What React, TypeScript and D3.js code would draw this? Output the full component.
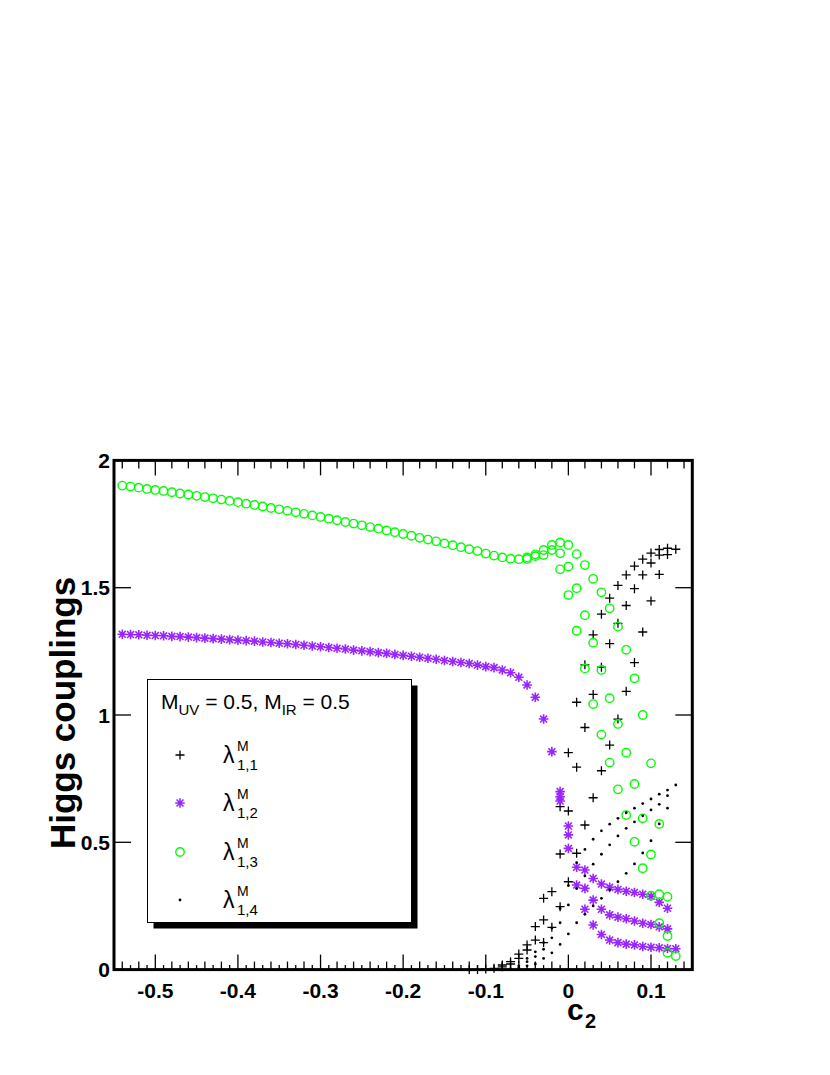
import React from "react";
import * as d3 from "d3";

// ---------- data ----------
type Pt = [number, number];

// λ^M_{1,1}  (black crosses)
const lambda11: Pt[] = [
  [-0.12, 0.0], [-0.11, 0.0], [-0.1, 0.002], [-0.09, 0.005], [-0.08, 0.011], [-0.08, 0.018],
  [-0.07, 0.022], [-0.07, 0.031], [-0.06, 0.044], [-0.06, 0.061], [-0.05, 0.077], [-0.05, 0.097],
  [-0.04, 0.116], [-0.04, 0.169], [-0.03, 0.106], [-0.03, 0.195], [-0.03, 0.28], [-0.02, 0.166],
  [-0.02, 0.306], [-0.01, 0.247], [-0.01, 0.454], [-0.01, 0.64], [0, 0.345], [0, 0.623], [0, 0.852],
  [0.01, 0.457], [0.01, 0.795], [0.01, 1.05], [0.02, 0.568], [0.02, 0.951], [0.02, 1.197],
  [0.03, 0.675], [0.03, 1.081], [0.03, 1.315], [0.04, 0.781], [0.04, 1.188], [0.04, 1.396],
  [0.05, 0.882], [0.05, 1.28], [0.05, 1.459], [0.06, 0.984], [0.06, 1.36], [0.06, 1.509],
  [0.07, 1.093], [0.07, 1.43], [0.07, 1.55], [0.08, 1.206], [0.08, 1.496], [0.08, 1.585],
  [0.09, 1.326], [0.09, 1.55], [0.09, 1.612], [0.1, 1.448], [0.1, 1.597], [0.1, 1.636],
  [0.11, 1.552], [0.11, 1.628], [0.11, 1.65], [0.12, 1.63], [0.12, 1.655], [0.13, 1.651],
];

// λ^M_{1,2}  (purple stars)
const lambda12: Pt[] = [
  [-0.54, 1.317], [-0.53, 1.316], [-0.52, 1.315], [-0.51, 1.313], [-0.5, 1.312], [-0.49, 1.311],
  [-0.48, 1.309], [-0.47, 1.308], [-0.46, 1.306], [-0.45, 1.304], [-0.44, 1.302], [-0.43, 1.3],
  [-0.42, 1.298], [-0.41, 1.296], [-0.4, 1.294], [-0.39, 1.292], [-0.38, 1.29], [-0.37, 1.287],
  [-0.36, 1.285], [-0.35, 1.282], [-0.34, 1.28], [-0.33, 1.277], [-0.32, 1.274], [-0.31, 1.271],
  [-0.3, 1.268], [-0.29, 1.265], [-0.28, 1.262], [-0.27, 1.259], [-0.26, 1.255], [-0.25, 1.252],
  [-0.24, 1.249], [-0.23, 1.245], [-0.22, 1.242], [-0.21, 1.238], [-0.2, 1.234], [-0.19, 1.231],
  [-0.18, 1.227], [-0.17, 1.223], [-0.16, 1.219], [-0.15, 1.214], [-0.14, 1.21], [-0.13, 1.206],
  [-0.12, 1.202], [-0.11, 1.196], [-0.1, 1.19], [-0.09, 1.186], [-0.08, 1.177], [-0.07, 1.166],
  [-0.06, 1.148], [-0.05, 1.118], [-0.04, 1.07], [-0.03, 0.984], [-0.02, 0.856],
  [-0.01, 0.699], [-0.01, 0.679], [-0.01, 0.662], [0, 0.564], [0, 0.529], [0, 0.476],
  [0.01, 0.402], [0.01, 0.332], [0.02, 0.391], [0.02, 0.319], [0.02, 0.237],
  [0.03, 0.358], [0.03, 0.273], [0.03, 0.175], [0.04, 0.336], [0.04, 0.237], [0.04, 0.138],
  [0.05, 0.323], [0.05, 0.215], [0.05, 0.116], [0.06, 0.315], [0.06, 0.206], [0.06, 0.106],
  [0.07, 0.308], [0.07, 0.2], [0.07, 0.1], [0.08, 0.303], [0.08, 0.191], [0.08, 0.097],
  [0.09, 0.296], [0.09, 0.182], [0.09, 0.091], [0.1, 0.288], [0.1, 0.177], [0.1, 0.088],
  [0.11, 0.264], [0.11, 0.168], [0.11, 0.086], [0.12, 0.241], [0.12, 0.16], [0.12, 0.083],
  [0.13, 0.082],
];

// λ^M_{1,3}  (green circles)
const lambda13: Pt[] = [
  [-0.54, 1.901], [-0.53, 1.897], [-0.52, 1.893], [-0.51, 1.888], [-0.5, 1.884], [-0.49, 1.88],
  [-0.48, 1.875], [-0.47, 1.87], [-0.46, 1.866], [-0.45, 1.861], [-0.44, 1.856], [-0.43, 1.851],
  [-0.42, 1.846], [-0.41, 1.841], [-0.4, 1.836], [-0.39, 1.83], [-0.38, 1.825], [-0.37, 1.819],
  [-0.36, 1.813], [-0.35, 1.808], [-0.34, 1.802], [-0.33, 1.796], [-0.32, 1.79], [-0.31, 1.784],
  [-0.3, 1.778], [-0.29, 1.771], [-0.28, 1.765], [-0.27, 1.758], [-0.26, 1.752], [-0.25, 1.745],
  [-0.24, 1.738], [-0.23, 1.732], [-0.22, 1.725], [-0.21, 1.718], [-0.2, 1.711], [-0.19, 1.704],
  [-0.18, 1.696], [-0.17, 1.689], [-0.16, 1.682], [-0.15, 1.674], [-0.14, 1.667], [-0.13, 1.659],
  [-0.12, 1.651], [-0.11, 1.644], [-0.1, 1.634], [-0.09, 1.626], [-0.08, 1.619], [-0.07, 1.614],
  [-0.06, 1.612], [-0.05, 1.613], [-0.05, 1.619], [-0.04, 1.624], [-0.04, 1.631],
  [-0.03, 1.628], [-0.03, 1.648], [-0.02, 1.648], [-0.02, 1.668],
  [-0.01, 1.678], [-0.01, 1.635], [-0.01, 1.572], [0, 1.668], [0, 1.583], [0, 1.471],
  [0.01, 1.632], [0.01, 1.498], [0.01, 1.331], [0.02, 1.589], [0.02, 1.392], [0.02, 1.183],
  [0.03, 1.535], [0.03, 1.284], [0.03, 1.043], [0.04, 1.482], [0.04, 1.177], [0.04, 0.923],
  [0.05, 1.419], [0.05, 1.066], [0.05, 0.813], [0.06, 1.347], [0.06, 0.965], [0.06, 0.708],
  [0.07, 1.256], [0.07, 0.852], [0.07, 0.607], [0.08, 1.144], [0.08, 0.729], [0.08, 0.502],
  [0.09, 1.0], [0.09, 0.594], [0.09, 0.398], [0.1, 0.81], [0.1, 0.452], [0.1, 0.29],
  [0.11, 0.572], [0.11, 0.296], [0.11, 0.182], [0.12, 0.286], [0.12, 0.132], [0.12, 0.066],
  [0.13, 0.053],
];

// λ^M_{1,4}  (black dots)
const lambda14: Pt[] = [
  [-0.07, 0.003], [-0.06, 0.008], [-0.05, 0.015], [-0.04, 0.022], [-0.03, 0.044], [-0.02, 0.066],
  [-0.01, 0.099], [0, 0.14], [0.01, 0.184], [0.02, 0.217], [0.03, 0.25], [0.04, 0.28],
  [0.05, 0.313], [0.06, 0.345], [0.07, 0.378], [0.08, 0.415], [0.09, 0.458], [0.1, 0.506],
  [0.11, 0.572], [0.12, 0.634],
  [-0.06, 0.015], [-0.05, 0.031], [-0.04, 0.051], [-0.03, 0.08], [-0.02, 0.125], [-0.01, 0.184],
  [0, 0.254], [0.01, 0.319], [0.02, 0.368], [0.03, 0.414], [0.04, 0.453], [0.05, 0.49],
  [0.06, 0.525], [0.07, 0.555], [0.08, 0.58], [0.09, 0.604], [0.1, 0.627], [0.11, 0.649],
  [0.12, 0.683],
  [-0.05, 0.044], [-0.04, 0.07], [-0.03, 0.106], [-0.02, 0.163], [-0.01, 0.24], [0, 0.33],
  [0.01, 0.42], [0.02, 0.472], [0.03, 0.512], [0.04, 0.545], [0.05, 0.571], [0.06, 0.594],
  [0.07, 0.616], [0.08, 0.634], [0.09, 0.652], [0.1, 0.67], [0.11, 0.689], [0.12, 0.705],
  [0.13, 0.725],
];

const xMajorTicks = [-0.5, -0.4, -0.3, -0.2, -0.1, 0, 0.1];
const xTickLabels = ["-0.5", "-0.4", "-0.3", "-0.2", "-0.1", "0", "0.1"];
const yMajorTicks = [0, 0.5, 1, 1.5, 2];
const yTickLabels = ["0", "0.5", "1", "1.5", "2"];

// ---------- layout ----------
const W = 830;
const H = 1075;
const L = 114;
const R = 692.3;
const T = 460.4;
const B = 969.6;

const PURPLE = "#9a26ff";
const GREEN = "#00ff00";
const FONT = "'Liberation Sans', Arial, Helvetica, sans-serif";

const x = d3.scaleLinear().domain([-0.55, 0.15]).range([L, R]);
const y = d3.scaleLinear().domain([0, 2]).range([B, T]);

const crossPath = (cx: number, cy: number, s = 4.5) =>
  `M${cx - s},${cy}H${cx + s}M${cx},${cy - s}V${cy + s}`;
const starPath = (cx: number, cy: number, s = 4.8) => {
  const d = s * 0.72;
  return `M${cx - s},${cy}H${cx + s}M${cx},${cy - s}V${cy + s}M${cx - d},${cy - d}L${cx + d},${cy + d}M${cx - d},${cy + d}L${cx + d},${cy - d}`;
};

function Cross({ cx, cy }: { cx: number; cy: number }) {
  return <path d={crossPath(cx, cy)} stroke="#000" strokeWidth={1.3} fill="none" />;
}
function Star({ cx, cy }: { cx: number; cy: number }) {
  return <path d={starPath(cx, cy)} stroke={PURPLE} strokeWidth={1.6} fill="none" />;
}
function Circle({ cx, cy }: { cx: number; cy: number }) {
  return <circle cx={cx} cy={cy} r={4.2} stroke={GREEN} strokeWidth={1.4} fill="none" />;
}
function Dot({ cx, cy }: { cx: number; cy: number }) {
  return <circle cx={cx} cy={cy} r={1.4} fill="#000" />;
}

function LambdaLabel({ lx, ly, sub }: { lx: number; ly: number; sub: string }) {
  return (
    <g fontFamily={FONT} fill="#000">
      <text x={lx} y={ly + 8} fontSize={23}>λ</text>
      <text x={lx + 14} y={ly - 4} fontSize={14}>M</text>
      <text x={lx + 14} y={ly + 15} fontSize={15}>{sub}</text>
    </g>
  );
}

export default function App() {
  const xSecondary = d3.range(-54, 15, 2).map((v) => v / 100).filter((v) => Math.abs(Math.round(v * 10) - v * 10) > 1e-6);
  const xTertiary = d3.range(-55, 16, 1).map((v) => v / 100).filter((v) => Math.abs(Math.round(v * 50) - v * 50) > 1e-6);

  const legL = 147.5;
  const legT = 679.5;
  const legW = 264;
  const legH = 243;
  const rows = [755, 803, 852, 900];

  return (
    <div style={{ position: "absolute", left: 0, top: 0 }}>
      <svg width={W} height={H} viewBox={`0 0 ${W} ${H}`} style={{ display: "block", background: "#fff" }}>
        <rect x={0} y={0} width={W} height={H} fill="#fff" />

        {/* ticks */}
        <g stroke="#000" strokeWidth={1.3}>
          {xMajorTicks.map((v) => (
            <g key={`xm${v}`}>
              <line x1={x(v)} x2={x(v)} y1={B} y2={B - 15} />
              <line x1={x(v)} x2={x(v)} y1={T} y2={T + 15} />
            </g>
          ))}
          {xSecondary.map((v) => (
            <g key={`xs${v}`}>
              <line x1={x(v)} x2={x(v)} y1={B} y2={B - 8} />
              <line x1={x(v)} x2={x(v)} y1={T} y2={T + 8} />
            </g>
          ))}
          {xTertiary.map((v) => (
            <line key={`xt${v}`} x1={x(v)} x2={x(v)} y1={B} y2={B - 4.5} />
          ))}
          {yMajorTicks.map((v) => (
            <g key={`ym${v}`}>
              <line x1={L} x2={L + 17} y1={y(v)} y2={y(v)} />
              <line x1={R} x2={R - 17} y1={y(v)} y2={y(v)} />
            </g>
          ))}
        </g>

        {/* data */}
        <g>
          {lambda11.map(([a, b], i) => <Cross key={`c${i}`} cx={x(a)} cy={y(b)} />)}
          {lambda12.map(([a, b], i) => <Star key={`s${i}`} cx={x(a)} cy={y(b)} />)}
          {lambda13.map(([a, b], i) => <Circle key={`o${i}`} cx={x(a)} cy={y(b)} />)}
          {lambda14.map(([a, b], i) => <Dot key={`d${i}`} cx={x(a)} cy={y(b)} />)}
        </g>

        {/* frame */}
        <rect x={L} y={T} width={R - L} height={B - T} fill="none" stroke="#000" strokeWidth={3} />

        {/* tick labels */}
        <g fontFamily={FONT} fontWeight="bold" fontSize={21} fill="#000">
          {xMajorTicks.map((v, i) => (
            <text key={`xl${v}`} x={x(v)} y={998} textAnchor="middle">{xTickLabels[i]}</text>
          ))}
          {yMajorTicks.map((v, i) => (
            <text key={`yl${v}`} x={110} y={y(v) + 7.5} textAnchor="end">{yTickLabels[i]}</text>
          ))}
        </g>

        {/* axis titles */}
        <g fontFamily={FONT} fontWeight="bold" fill="#000">
          <text x={567} y={1020} fontSize={30}>c</text>
          <text x={585} y={1028} fontSize={20}>2</text>
          <text transform={`translate(75,${713}) rotate(-90)`} textAnchor="middle" fontSize={35}>Higgs couplings</text>
        </g>

        {/* legend */}
        <rect x={legL + 6} y={legT + 6} width={legW} height={legH} fill="#000" />
        <rect x={legL} y={legT} width={legW} height={legH} fill="#fff" stroke="#000" strokeWidth={1} />
        <g fontFamily={FONT} fill="#000">
          <text x={161} y={709} fontSize={21}>
            M<tspan fontSize={15} dy={6}>UV</tspan>
            <tspan dy={-6}> = 0.5, M</tspan>
            <tspan fontSize={15} dy={6}>IR</tspan>
            <tspan dy={-6}> = 0.5</tspan>
          </text>
        </g>
        <Cross cx={180} cy={rows[0]} />
        <Star cx={180} cy={rows[1]} />
        <Circle cx={180} cy={rows[2]} />
        <Dot cx={180} cy={rows[3]} />
        <LambdaLabel lx={223} ly={rows[0]} sub="1,1" />
        <LambdaLabel lx={223} ly={rows[1]} sub="1,2" />
        <LambdaLabel lx={223} ly={rows[2]} sub="1,3" />
        <LambdaLabel lx={223} ly={rows[3]} sub="1,4" />
      </svg>
    </div>
  );
}
